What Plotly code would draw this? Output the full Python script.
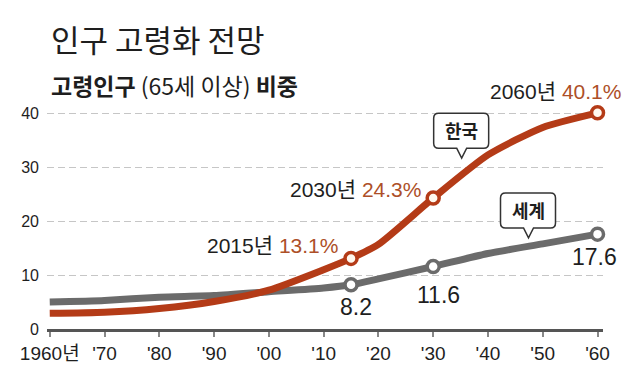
import plotly.graph_objects as go

years = [1960, 1970, 1980, 1990, 2000, 2010, 2015, 2020, 2030, 2040, 2050, 2060]
korea = [2.9, 3.1, 3.8, 5.1, 7.2, 11.0, 13.1, 15.7, 24.3, 32.3, 37.4, 40.1]
world = [5.0, 5.3, 5.9, 6.2, 6.9, 7.6, 8.2, 9.3, 11.6, 14.0, 15.8, 17.6]
highlight_years = [2015, 2030, 2060]
xtick_vals = [1960, 1970, 1980, 1990, 2000, 2010, 2020, 2030, 2040, 2050, 2060]
xtick_text = ["1960년", "'70", "'80", "'90", "'00", "'10", "'20", "'30", "'40", "'50", "'60"]
ytick_vals = [0, 10, 20, 30, 40]

KOREA_C = "#b43b17"
WORLD_C = "#6b6b6b"
PCT_C = "#ad4f28"
TXT_C = "#1e1e1e"
LAT = "Liberation Sans, Arial, Noto Sans CJK KR"
KR = "Noto Sans CJK KR, Liberation Sans"

hk = [korea[years.index(y)] for y in highlight_years]
hw = [world[years.index(y)] for y in highlight_years]

fig = go.Figure()
fig.add_trace(go.Scatter(x=years, y=world, mode="lines",
                         line=dict(color=WORLD_C, width=7, shape="spline", smoothing=0.6),
                         cliponaxis=False, hoverinfo="skip"))
fig.add_trace(go.Scatter(x=years, y=korea, mode="lines",
                         line=dict(color=KOREA_C, width=7, shape="spline", smoothing=0.6),
                         cliponaxis=False, hoverinfo="skip"))
fig.add_trace(go.Scatter(x=highlight_years, y=hw, mode="markers",
                         marker=dict(size=12, color="white", line=dict(color=WORLD_C, width=3.5)),
                         cliponaxis=False, hoverinfo="skip"))
fig.add_trace(go.Scatter(x=highlight_years, y=hk, mode="markers",
                         marker=dict(size=12, color="#fff8ee", line=dict(color=KOREA_C, width=3.5)),
                         cliponaxis=False, hoverinfo="skip"))

annotations = []
# Titles
annotations.append(dict(xref="paper", yref="paper", x=0.003, y=1.3145, xanchor="left", yanchor="middle",
                        text="인구 고령화 전망", showarrow=False,
                        font=dict(family=KR, size=31, color=TXT_C)))
annotations.append(dict(xref="paper", yref="paper", x=0.003, y=1.104, xanchor="left", yanchor="middle",
                        text="<b>고령인구</b> (65세 이상) <b>비중</b>", showarrow=False,
                        font=dict(family=KR, size=23, color=TXT_C)))

# Korea labels
k_shift = {2015: (-11, 13), 2030: (-10, 9), 2060: (25, 21)}
for yv, val in zip(highlight_years, hk):
    dx, dy = k_shift[yv]
    annotations.append(dict(x=yv, y=val, xanchor="right", yanchor="middle", xshift=dx, yshift=dy,
                            text=f"{yv}년 <span style='color:{PCT_C}'>{val}%</span>", showarrow=False,
                            font=dict(family=LAT, size=21, color=TXT_C)))
# World labels
w_shift = {2015: (5, -22), 2030: (5, -29), 2060: (-3, -23)}
for yv, val in zip(highlight_years, hw):
    dx, dy = w_shift[yv]
    annotations.append(dict(x=yv, y=val, xanchor="center", yanchor="middle", xshift=dx, yshift=dy,
                            text=f"{val}", showarrow=False,
                            font=dict(family=LAT, size=23, color=TXT_C)))

# Callout bubbles
bubble_path = ("M -5,10 L 0,0 L 5,10 L 22,10 Q 27,10 27,15 L 27,40 Q 27,45 22,45 "
               "L -23,45 Q -28,45 -28,40 L -28,15 Q -28,10 -23,10 Z")
shapes = []
callouts = [("한국", 2035.2, 31.7), ("세계", 2047.4, 16.9)]
for name, cx, cy in callouts:
    shapes.append(dict(type="path", xref="x", yref="y", xsizemode="pixel", ysizemode="pixel",
                       xanchor=cx, yanchor=cy, path=bubble_path,
                       line=dict(color="#333333", width=1.5), fillcolor="white", layer="above"))
    annotations.append(dict(x=cx, y=cy, xshift=0, yshift=28, text=f"<b>{name}</b>", showarrow=False,
                            xanchor="center", yanchor="middle",
                            font=dict(family=KR, size=18, color=TXT_C)))

fig.update_layout(
    width=632, height=368,
    margin=dict(l=30, r=37, t=100, b=47),
    paper_bgcolor="white", plot_bgcolor="white",
    showlegend=False,
    annotations=annotations,
    shapes=shapes,
    xaxis=dict(range=[1959.5, 2061], tickvals=xtick_vals, ticktext=xtick_text,
               showgrid=False, zeroline=False, showline=True, linecolor="#555555", linewidth=2.5,
               ticks="outside", ticklen=5, tickcolor="#888888", tickwidth=1.5,
               tickfont=dict(family=LAT, size=19, color=TXT_C), fixedrange=True),
    yaxis=dict(range=[0, 41], tickvals=ytick_vals, showgrid=True, gridcolor="#c6c6c6",
               griddash="7px,4px", gridwidth=1, zeroline=False, showline=False,
               tickfont=dict(family=LAT, size=16, color=TXT_C), ticklabelstandoff=7, fixedrange=True),
)

fig.write_html("out.html")
